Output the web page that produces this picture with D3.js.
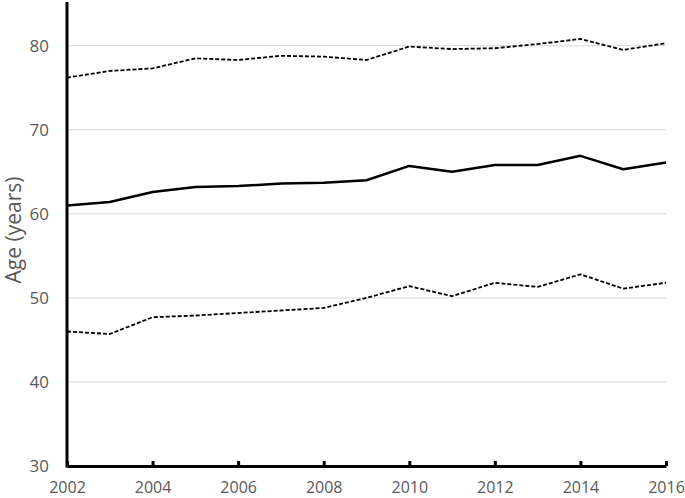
<!DOCTYPE html>
<html>
<head>
<meta charset="utf-8">
<script src="https://d3js.org/d3.v7.min.js"></script>
<style>
  body { margin: 0; background: #fff; }
  text { font-family: "Open Sans", sans-serif; fill: #595959; }
</style>
</head>
<body>
<svg id="canvas" width="685" height="498"></svg>
<script>
// data
let years = d3.range(2002, 2017)
let upper = [76.2, 77.0, 77.3, 78.5, 78.3, 78.8, 78.7, 78.3, 79.9, 79.6, 79.7, 80.2, 80.8, 79.5, 80.3]
let middle = [61.0, 61.4, 62.6, 63.2, 63.3, 63.6, 63.7, 64.0, 65.7, 65.0, 65.8, 65.8, 66.9, 65.3, 66.1]
let lower = [46.0, 45.7, 47.7, 47.9, 48.2, 48.5, 48.8, 50.0, 51.4, 50.2, 51.8, 51.3, 52.8, 51.1, 51.8]
let yTicks = [30, 40, 50, 60, 70, 80]
let xTicks = [2002, 2004, 2006, 2008, 2010, 2012, 2014, 2016]

let canvas = d3.select('#canvas')

let x = d3.scaleLinear().domain([2002, 2016]).range([67, 666])
let y = d3.scaleLinear().domain([30, 85.2]).range([466, 2])

// gridlines
canvas.append('g')
    .selectAll('line')
    .data(yTicks.slice(1))
    .enter()
    .append('line')
    .attr('x1', x(2002))
    .attr('x2', x(2016))
    .attr('y1', d => y(d))
    .attr('y2', d => y(d))
    .attr('stroke', '#d9d9d9')
    .attr('stroke-width', 1)

// y tick labels
canvas.append('g')
    .selectAll('text')
    .data(yTicks)
    .enter()
    .append('text')
    .attr('x', 49)
    .attr('y', d => y(d))
    .attr('dy', '0.36em')
    .attr('text-anchor', 'end')
    .attr('font-size', 17)
    .text(d => d)

// x axis
let xAxis = d3.axisBottom(x)
    .tickValues(xTicks)
    .tickFormat(d3.format('d'))
    .tickSizeInner(-5)
    .tickSizeOuter(0)
    .tickPadding(16)

let gx = canvas.append('g')
    .attr('transform', 'translate(0,466)')
    .call(xAxis)
gx.select('.domain').attr('stroke', '#000').attr('stroke-width', 3)
gx.selectAll('.tick line').attr('stroke', '#000').attr('stroke-width', 3)
gx.selectAll('.tick text')
    .attr('font-size', 16)
    .attr('font-family', '"Open Sans", sans-serif')
    .attr('fill', '#595959')

// y axis line
canvas.append('line')
    .attr('x1', x(2002))
    .attr('x2', x(2002))
    .attr('y1', y(85.2))
    .attr('y2', y(30) + 1.5)
    .attr('stroke', '#000')
    .attr('stroke-width', 3)

// y axis title
canvas.append('text')
    .attr('transform', 'translate(21,230) rotate(-90)')
    .attr('text-anchor', 'middle')
    .attr('font-size', 21)
    .text('Age (years)')

let line = d3.line()
    .x((d, i) => x(years[i]))
    .y(d => y(d))

let series = [
    { values: upper, dash: '4,2', width: 1.8 },
    { values: middle, dash: null, width: 2.5 },
    { values: lower, dash: '4,2', width: 1.8 }
]

canvas.append('g')
    .selectAll('path')
    .data(series)
    .enter()
    .append('path')
    .attr('d', s => line(s.values))
    .attr('fill', 'none')
    .attr('stroke', '#000')
    .attr('stroke-width', s => s.width)
    .attr('stroke-dasharray', s => s.dash)
    .attr('stroke-linejoin', 'round')
</script>
</body>
</html>
